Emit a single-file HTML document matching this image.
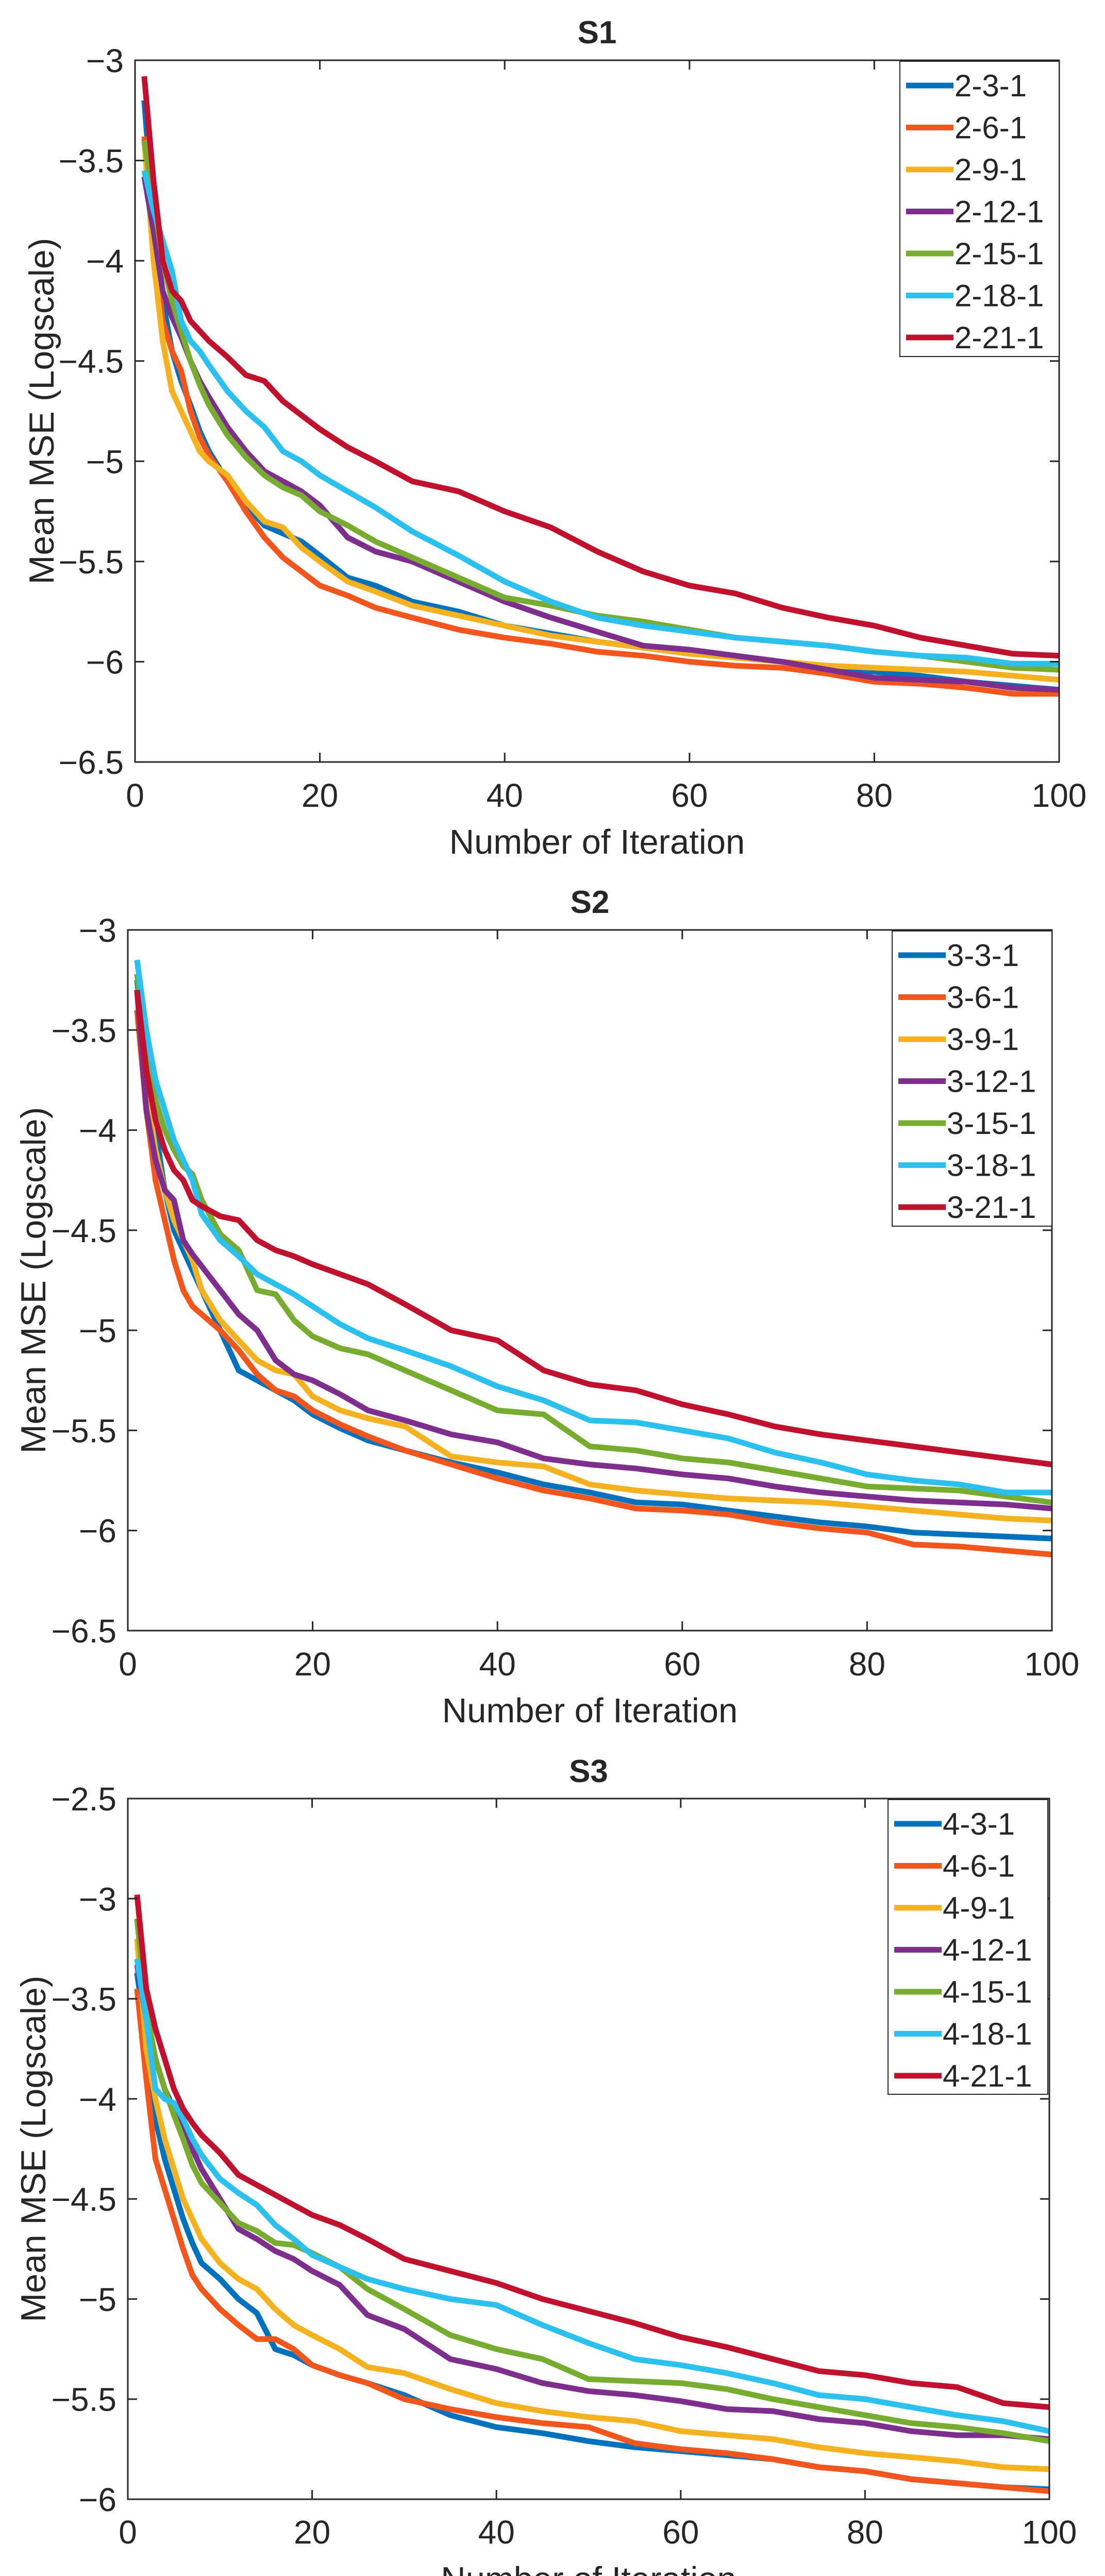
<!DOCTYPE html>
<html><head><meta charset="utf-8"><style>
html,body{margin:0;padding:0;background:#fff;width:2144px;height:5057px;overflow:hidden;}
svg{display:block;}
text{font-family:"Liberation Sans",Arial,sans-serif;fill:#262626;}
</style></head><body>
<svg id="fig" width="2144" height="5057" viewBox="0 0 2144 5057" xmlns="http://www.w3.org/2000/svg"></svg>
<script>
const iters = [1,2,3,4,5,6,7,8,10,12,14,16,18,20,23,26,30,35,40,45,50,55,60,65,70,75,80,85,90,95,100];
const xTicks = [0,20,40,60,80,100];
const colors = ["#0072BD","#F2561D","#F5B220","#7E2F8E","#77AC30","#2CC0EE","#C0122F"];

const s1Names = ["2-3-1","2-6-1","2-9-1","2-12-1","2-15-1","2-18-1","2-21-1"];
const s1Blue   = [-3.2,-3.8,-4.2,-4.45,-4.6,-4.72,-4.85,-4.95,-5.1,-5.22,-5.32,-5.36,-5.4,-5.47,-5.58,-5.62,-5.7,-5.75,-5.82,-5.86,-5.9,-5.93,-5.96,-5.98,-6.0,-6.03,-6.05,-6.07,-6.1,-6.12,-6.14];
const s1Orange = [-3.38,-3.9,-4.3,-4.45,-4.55,-4.75,-4.88,-4.97,-5.1,-5.25,-5.38,-5.48,-5.55,-5.62,-5.67,-5.73,-5.78,-5.84,-5.88,-5.91,-5.95,-5.97,-6.0,-6.02,-6.03,-6.06,-6.1,-6.11,-6.13,-6.16,-6.16];
const s1Yellow = [-3.4,-4.0,-4.4,-4.65,-4.75,-4.85,-4.95,-5.0,-5.07,-5.2,-5.3,-5.33,-5.43,-5.5,-5.6,-5.65,-5.72,-5.77,-5.82,-5.87,-5.9,-5.93,-5.96,-5.98,-6.0,-6.02,-6.03,-6.04,-6.05,-6.07,-6.09];
const s1Purple = [-3.58,-3.85,-4.15,-4.28,-4.38,-4.5,-4.6,-4.68,-4.83,-4.95,-5.05,-5.1,-5.15,-5.22,-5.38,-5.45,-5.5,-5.6,-5.7,-5.78,-5.85,-5.92,-5.94,-5.97,-6.0,-6.04,-6.08,-6.09,-6.1,-6.13,-6.14];
const s1Green  = [-3.4,-3.7,-4.0,-4.2,-4.35,-4.5,-4.62,-4.72,-4.87,-4.98,-5.07,-5.13,-5.17,-5.25,-5.32,-5.4,-5.48,-5.58,-5.68,-5.72,-5.77,-5.8,-5.84,-5.88,-5.9,-5.92,-5.95,-5.97,-6.0,-6.03,-6.04];
const s1Cyan   = [-3.55,-3.75,-3.9,-4.05,-4.3,-4.4,-4.45,-4.52,-4.65,-4.75,-4.83,-4.95,-5.0,-5.07,-5.15,-5.23,-5.35,-5.47,-5.6,-5.7,-5.78,-5.82,-5.85,-5.88,-5.9,-5.92,-5.95,-5.97,-5.98,-6.01,-6.01];
const s1Red    = [-3.08,-3.6,-4.0,-4.15,-4.2,-4.3,-4.35,-4.4,-4.48,-4.57,-4.6,-4.7,-4.77,-4.84,-4.93,-5.0,-5.1,-5.15,-5.25,-5.33,-5.45,-5.55,-5.62,-5.66,-5.73,-5.78,-5.82,-5.88,-5.92,-5.96,-5.97];

const s2Names = ["3-3-1","3-6-1","3-9-1","3-12-1","3-15-1","3-18-1","3-21-1"];
const s2Blue   = [-3.25,-3.65,-4.0,-4.3,-4.5,-4.6,-4.7,-4.8,-5.0,-5.2,-5.25,-5.3,-5.35,-5.42,-5.49,-5.55,-5.6,-5.66,-5.71,-5.77,-5.81,-5.86,-5.87,-5.9,-5.93,-5.96,-5.98,-6.01,-6.02,-6.03,-6.04];
const s2Orange = [-3.4,-3.9,-4.25,-4.45,-4.65,-4.8,-4.88,-4.92,-5.0,-5.1,-5.22,-5.3,-5.33,-5.4,-5.47,-5.53,-5.6,-5.67,-5.74,-5.8,-5.84,-5.89,-5.9,-5.92,-5.96,-5.99,-6.01,-6.07,-6.08,-6.1,-6.12];
const s2Yellow = [-3.3,-3.8,-4.1,-4.3,-4.45,-4.55,-4.65,-4.8,-4.95,-5.05,-5.15,-5.2,-5.22,-5.33,-5.4,-5.44,-5.48,-5.63,-5.66,-5.68,-5.77,-5.8,-5.82,-5.84,-5.85,-5.86,-5.88,-5.9,-5.92,-5.94,-5.95];
const s2Purple = [-3.3,-3.9,-4.15,-4.3,-4.35,-4.55,-4.62,-4.68,-4.8,-4.92,-5.0,-5.15,-5.22,-5.25,-5.32,-5.4,-5.45,-5.52,-5.56,-5.64,-5.67,-5.69,-5.72,-5.74,-5.78,-5.81,-5.83,-5.85,-5.86,-5.87,-5.89];
const s2Green  = [-3.22,-3.6,-3.85,-4.0,-4.1,-4.18,-4.22,-4.35,-4.52,-4.6,-4.8,-4.82,-4.95,-5.03,-5.09,-5.12,-5.2,-5.3,-5.4,-5.42,-5.58,-5.6,-5.64,-5.66,-5.7,-5.74,-5.78,-5.79,-5.8,-5.83,-5.86];
const s2Cyan   = [-3.15,-3.5,-3.75,-3.9,-4.05,-4.15,-4.25,-4.42,-4.55,-4.63,-4.72,-4.77,-4.82,-4.88,-4.97,-5.04,-5.1,-5.18,-5.28,-5.35,-5.45,-5.46,-5.5,-5.54,-5.61,-5.66,-5.72,-5.75,-5.77,-5.81,-5.81];
const s2Red    = [-3.3,-3.7,-3.95,-4.1,-4.2,-4.25,-4.35,-4.38,-4.43,-4.45,-4.55,-4.6,-4.63,-4.67,-4.72,-4.77,-4.87,-5.0,-5.05,-5.2,-5.27,-5.3,-5.37,-5.42,-5.48,-5.52,-5.55,-5.58,-5.61,-5.64,-5.67];

const s3Names = ["4-3-1","4-6-1","4-9-1","4-12-1","4-15-1","4-18-1","4-21-1"];
const s3Blue   = [-3.37,-3.7,-4.1,-4.3,-4.45,-4.6,-4.72,-4.82,-4.9,-5.0,-5.07,-5.25,-5.28,-5.33,-5.38,-5.42,-5.48,-5.58,-5.64,-5.67,-5.71,-5.74,-5.76,-5.78,-5.8,-5.84,-5.86,-5.9,-5.92,-5.94,-5.95];
const s3Orange = [-3.45,-3.9,-4.3,-4.45,-4.6,-4.75,-4.88,-4.95,-5.05,-5.13,-5.2,-5.2,-5.25,-5.33,-5.38,-5.42,-5.5,-5.55,-5.59,-5.62,-5.64,-5.72,-5.75,-5.77,-5.8,-5.84,-5.86,-5.9,-5.92,-5.94,-5.96];
const s3Yellow = [-3.2,-3.75,-4.0,-4.2,-4.35,-4.5,-4.6,-4.7,-4.82,-4.9,-4.95,-5.05,-5.13,-5.18,-5.25,-5.34,-5.37,-5.45,-5.52,-5.56,-5.59,-5.61,-5.66,-5.68,-5.7,-5.74,-5.77,-5.79,-5.81,-5.84,-5.85];
const s3Purple = [-3.33,-3.6,-3.8,-3.95,-4.05,-4.15,-4.25,-4.35,-4.5,-4.65,-4.7,-4.76,-4.8,-4.86,-4.93,-5.08,-5.15,-5.3,-5.35,-5.42,-5.46,-5.48,-5.51,-5.55,-5.56,-5.6,-5.62,-5.66,-5.68,-5.68,-5.7];
const s3Green  = [-3.1,-3.55,-3.8,-3.95,-4.08,-4.2,-4.33,-4.42,-4.52,-4.62,-4.66,-4.72,-4.73,-4.77,-4.84,-4.95,-5.05,-5.18,-5.25,-5.3,-5.4,-5.41,-5.42,-5.45,-5.5,-5.54,-5.58,-5.62,-5.64,-5.67,-5.71];
const s3Cyan   = [-3.3,-3.6,-3.95,-4.0,-4.02,-4.1,-4.2,-4.28,-4.4,-4.47,-4.53,-4.63,-4.7,-4.78,-4.84,-4.9,-4.95,-5.0,-5.03,-5.13,-5.22,-5.3,-5.33,-5.37,-5.42,-5.48,-5.5,-5.54,-5.58,-5.61,-5.66];
const s3Red    = [-2.98,-3.45,-3.65,-3.8,-3.95,-4.05,-4.12,-4.18,-4.27,-4.38,-4.43,-4.48,-4.53,-4.58,-4.63,-4.7,-4.8,-4.86,-4.92,-5.0,-5.06,-5.12,-5.19,-5.24,-5.3,-5.36,-5.38,-5.42,-5.44,-5.52,-5.54];

const y12Ticks = [-3,-3.5,-4,-4.5,-5,-5.5,-6,-6.5];
const y12Labels = ["\u22123","\u22123.5","\u22124","\u22124.5","\u22125","\u22125.5","\u22126","\u22126.5"];
const y3Ticks = [-2.5,-3,-3.5,-4,-4.5,-5,-5.5,-6];
const y3Labels = ["\u22122.5","\u22123","\u22123.5","\u22124","\u22124.5","\u22125","\u22125.5","\u22126"];

const NS = "http://www.w3.org/2000/svg";
const svg = document.getElementById('fig');
function mk(tag, attrs, parent){
  const e = document.createElementNS(NS, tag);
  for (const k in attrs) e.setAttribute(k, attrs[k]);
  (parent||svg).appendChild(e);
  return e;
}

const panels = [
  {id:"s1", title:"S1", L:262, R:2055, T:117, B:1479, ymax:-3, ymin:-6.5, yt:y12Ticks, yl:y12Labels, names:s1Names,
   series:[s1Blue,s1Orange,s1Yellow,s1Purple,s1Green,s1Cyan,s1Red], titleY:84, xtY:1566, xlY:1657, ylX:104,
   leg:{x:1746,y:119,w:309,h:573}},
  {id:"s2", title:"S2", L:248, R:2041, T:1805, B:3165, ymax:-3, ymin:-6.5, yt:y12Ticks, yl:y12Labels, names:s2Names,
   series:[s2Blue,s2Orange,s2Yellow,s2Purple,s2Green,s2Cyan,s2Red], titleY:1772, xtY:3252, xlY:3343, ylX:88,
   leg:{x:1731,y:1807,w:310,h:573}},
  {id:"s3", title:"S3", L:248, R:2036, T:3491, B:4851, ymax:-2.5, ymin:-6, yt:y3Ticks, yl:y3Labels, names:s3Names,
   series:[s3Blue,s3Orange,s3Yellow,s3Purple,s3Green,s3Cyan,s3Red], titleY:3459, xtY:4937, xlY:5029, ylX:88,
   leg:{x:1723,y:3493,w:310,h:572}}
];

panels.forEach(p => {
  const g = mk('g', {});
  
  
  const xs = v => p.L + (v - 0) / 100 * (p.R - p.L);
  const ys = v => p.T + (p.ymax - v) / (p.ymax - p.ymin) * (p.B - p.T);
  const cx = (p.L + p.R) / 2;

  const t = mk('text', {x:cx, y:p.titleY, 'text-anchor':'middle', 'font-size':62, 'font-weight':'bold', fill:'#000'}, g);
  t.textContent = p.title;
  
  

  const sg = mk('g', {}, g);
  p.series.forEach((vals, i) => {
    let d = '';
    vals.forEach((v, j) => { d += (j ? 'L' : 'M') + xs(iters[j]).toFixed(1) + ' ' + ys(v).toFixed(1); });
    const pl = mk('path', {d:d, fill:'none', stroke:colors[i], 'stroke-width':11, 'stroke-linejoin':'round'}, sg);
    
    
  });

  const box = mk('rect', {x:p.L, y:p.T, width:p.R-p.L, height:p.B-p.T, fill:'none', stroke:'#262626', 'stroke-width':3}, g);
  
  

  xTicks.forEach(v => {
    const x = xs(v);
    mk('line', {x1:x, y1:p.B, x2:x, y2:p.B-18, stroke:'#262626', 'stroke-width':3}, g);
    mk('line', {x1:x, y1:p.T, x2:x, y2:p.T+18, stroke:'#262626', 'stroke-width':3}, g);
    const tl = mk('text', {x:x, y:p.xtY, 'text-anchor':'middle', 'font-size':64}, g);
    tl.textContent = String(v);
    
    
  });
  p.yt.forEach((v, i) => {
    const y = ys(v);
    mk('line', {x1:p.L, y1:y, x2:p.L+18, y2:y, stroke:'#262626', 'stroke-width':3}, g);
    mk('line', {x1:p.R, y1:y, x2:p.R-18, y2:y, stroke:'#262626', 'stroke-width':3}, g);
    const tl = mk('text', {x:p.L-22, y:y+23, 'text-anchor':'end', 'font-size':64}, g);
    tl.textContent = p.yl[i];
    
    
  });

  const xl = mk('text', {x:cx, y:p.xlY, 'text-anchor':'middle', 'font-size':67}, g);
  xl.textContent = 'Number of Iteration';
  
  
  const yc = (p.T + p.B) / 2;
  const yl = mk('text', {x:p.ylX, y:yc, 'text-anchor':'middle', 'font-size':68, transform:'rotate(-90 '+p.ylX+' '+yc+')'}, g);
  yl.textContent = 'Mean MSE  (Logscale)';
  
  

  const lg = mk('g', {}, g);
  
  
  mk('rect', {x:p.leg.x, y:p.leg.y, width:p.leg.w, height:p.leg.h, fill:'#fff', stroke:'#262626', 'stroke-width':2}, lg);
  p.names.forEach((n, i) => {
    const ey = p.leg.y + 47 + i * 81.5;
    const en = mk('g', {}, lg);
    
    
    mk('line', {x1:p.leg.x+12, y1:ey, x2:p.leg.x+104, y2:ey, stroke:colors[i], 'stroke-width':11}, en);
    const tx = mk('text', {x:p.leg.x+106, y:ey+21, 'font-size':60, fill:'#000'}, en);
    tx.textContent = n;
  });
});
</script>
</body></html>
